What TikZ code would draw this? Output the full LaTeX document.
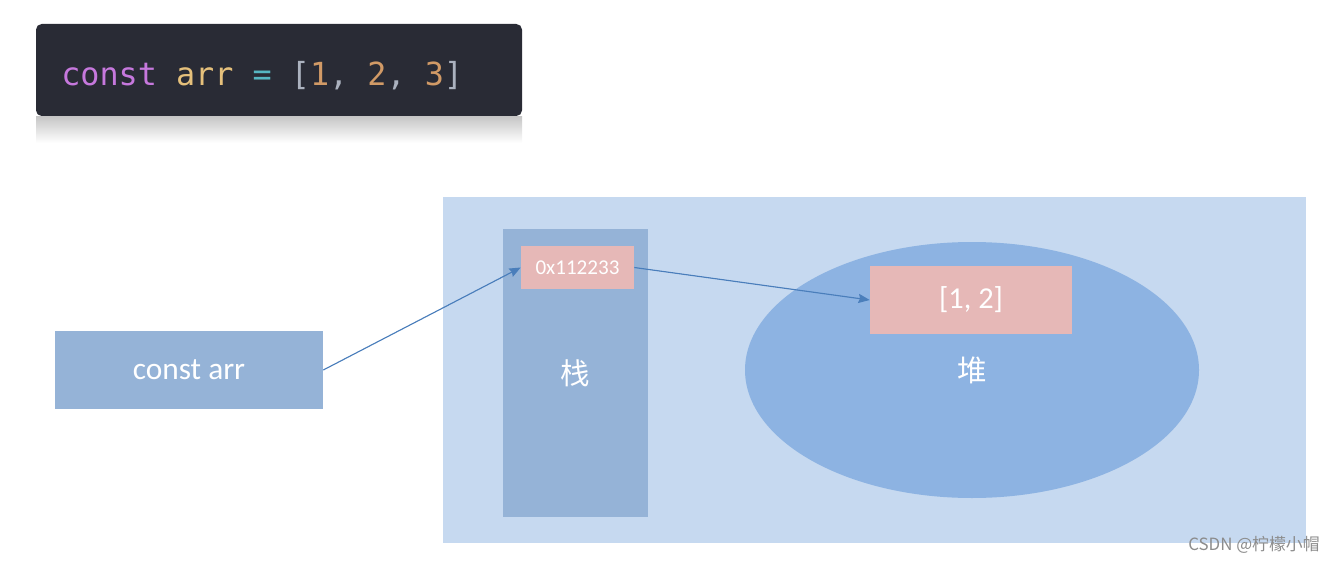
\documentclass[tikz,border=0pt]{standalone}
\usepackage{fontspec}
\usepackage{xcolor}
\setmainfont{Carlito}
\setmonofont{DejaVu Sans Mono}
\newfontfamily\cjk{Noto Sans CJK SC}
\usetikzlibrary{calc, shapes.geometric, arrows.meta}

\definecolor{codebg}{HTML}{292B35}
\definecolor{kw}{HTML}{C678DD}
\definecolor{var}{HTML}{E5C07B}
\definecolor{op}{HTML}{56B6C2}
\definecolor{br}{HTML}{ABB2BF}
\definecolor{num}{HTML}{D19A66}
\definecolor{memlight}{HTML}{C6D9F0}
\definecolor{stackblue}{HTML}{95B3D7}
\definecolor{heapblue}{HTML}{8DB3E2}
\definecolor{cellpink}{HTML}{E6B8B7}
\definecolor{linkblue}{HTML}{4A7EBB}

\tikzset{
	block/.style = {rectangle, inner sep = 0pt, text = white},
	link/.style = {-{Stealth[length = 8pt, width = 6.5pt, inset = 1pt]}, draw = linkblue, fill = linkblue, line width = 0.8pt},
}

\begin{document}
\begin{tikzpicture}[x = 0.025cm, y = -0.025cm]
	\def\px{0.025cm}
	\useasboundingbox (0,0) rectangle (1338,564);

	% code line
	\shade[top color = black!22, bottom color = white] (36,117) rectangle (522,143);
	\node (code) [block, fill = codebg, rounded corners = 4pt,
		minimum width = 486*\px, minimum height = 92*\px] at (279,70) {};
	\node (codetext) [anchor = base west, inner sep = 0pt] at (61,86)
		{\ttfamily\fontsize{22.6}{26}\selectfont
		\color{kw}const \color{var}arr \color{op}= \color{br}[\color{num}1\color{br}, \color{num}2\color{br}, \color{num}3\color{br}]};

	% memory
	\node (memory) [block, fill = memlight, minimum width = 863*\px, minimum height = 346*\px] at (874.5,370) {};
	\node (stack) [block, fill = stackblue, minimum width = 145*\px, minimum height = 288*\px,
		font = \cjk\fontsize{21}{24}\selectfont] at (575.5,373) {栈};
	\node (heap) [ellipse, inner sep = 0pt, fill = heapblue, text = white,
		minimum width = 454*\px, minimum height = 256*\px,
		font = \cjk\fontsize{21}{24}\selectfont] at (972,370) {堆};
	\node (addr) [block, fill = cellpink, minimum width = 113*\px, minimum height = 43*\px,
		font = \fontsize{15}{18}\selectfont] at (577.5,267.5) {\raisebox{-1pt}{0x112233}};
	\node (value) [block, fill = cellpink, minimum width = 202*\px, minimum height = 68*\px,
		font = \fontsize{21.6}{25}\selectfont] at (971,300) {[1, 2]};

	% variable
	\node (arr) [block, fill = stackblue, minimum width = 268*\px, minimum height = 78*\px,
		font = \fontsize{22.3}{26}\selectfont] at (189,370) {\raisebox{-2pt}{const arr}};

	\draw[link] (arr.east) -- (addr.west);
	\draw[link] (addr.east) -- (value.west);

	\node (mark) [text = black!45, font = \cjk\fontsize{12}{14}\selectfont] at (1254,545) {CSDN @柠檬小帽};
\end{tikzpicture}
\end{document}
